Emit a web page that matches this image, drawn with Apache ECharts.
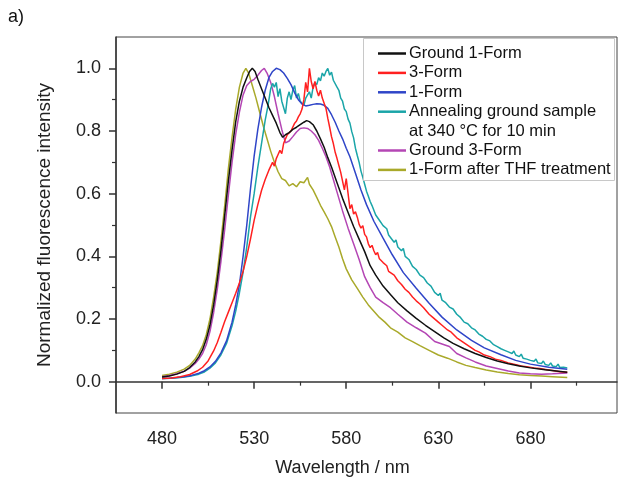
<!DOCTYPE html>
<html>
<head>
<meta charset="utf-8">
<script src="https://cdn.jsdelivr.net/npm/echarts@6/dist/echarts.min.js"></script>
<style>html,body{margin:0;padding:0;background:#fff}#c{width:622px;height:482px}</style>
</head>
<body>
<div id="c"></div>
<script>
// ---------- tick labels ----------
const xMajorTicks = [480, 530, 580, 630, 680];
const xMinorTicks = [505, 555, 605, 655, 705];
const yMajorTicks = [0, 0.2, 0.4, 0.6, 0.8, 1.0];
const yMinorTicks = [0.1, 0.3, 0.5, 0.7, 0.9];

// ---------- series names ----------
const seriesNames = ['Ground 1-Form', '3-Form', '1-Form', 'Annealing ground sample\nat 340 °C for 10 min', 'Ground 3-Form', '1-Form after THF treatment'];

// ---------- Ground 1-Form (black) ----------
const wlBlack = [480,484,488,492,495,498,500,502,504,506,508,510,512,514,516,518,520,522,524,526,527.5,529,530.5,532,534,536,538,540,542,544,545.5,547,549,551,553,555,557,558.5,560,562,564,566,568,570,572,575,578,581,584,587,590,593,596,600,604,608,613,618,623,628,633,638,644,650,656,662,668,674,680,688,694,700];
const valBlack = [0.015,0.018,0.024,0.033,0.045,0.063,0.08,0.102,0.135,0.18,0.245,0.325,0.42,0.53,0.64,0.74,0.83,0.895,0.94,0.97,0.99,1.0,0.99,0.965,0.935,0.905,0.875,0.85,0.825,0.795,0.78,0.788,0.795,0.805,0.812,0.82,0.828,0.833,0.83,0.82,0.8,0.775,0.748,0.715,0.685,0.635,0.585,0.54,0.495,0.455,0.415,0.37,0.34,0.305,0.278,0.252,0.226,0.202,0.18,0.16,0.14,0.122,0.105,0.09,0.077,0.066,0.057,0.05,0.044,0.038,0.034,0.03];

// ---------- 3-Form (red) ----------
const wlRed = [480,485,490,495,499,502,505,508,510,512,514,516,518,520,522,524,526,528,530,532,534,536,538,540,541,542,543,544,545,546,547,548,549,550,551,552,553,554,555,556,557,558,559,560,561,562,563,564,565,566,567,568,569,570,571,572,573,574,575,576,577,578,579,580,581,582,583,584,585,586,587,588,589,590,591,592,593,594,595,596,597,598,599,600,602,603,604,606,607,608,610,611,612,614,615,616,618,619,620,622,623,625,627,628,630,632,633,635,637,638,640,642,643,645,647,648,650,652,653,655,658,659,661,664,665,668,671,672,675,678,679,682,685,686,689,692,693,696,700];
const valRed = [0.01,0.012,0.016,0.023,0.034,0.046,0.066,0.098,0.125,0.158,0.192,0.222,0.252,0.282,0.315,0.352,0.4,0.455,0.515,0.565,0.61,0.645,0.675,0.7,0.688,0.712,0.725,0.738,0.728,0.76,0.775,0.788,0.785,0.8,0.795,0.825,0.832,0.845,0.855,0.87,0.9,0.955,0.925,1.0,0.958,0.935,0.958,0.93,0.912,0.93,0.905,0.9,0.872,0.84,0.812,0.782,0.76,0.732,0.712,0.69,0.668,0.662,0.612,0.648,0.6,0.552,0.565,0.535,0.542,0.525,0.502,0.49,0.498,0.47,0.462,0.44,0.428,0.435,0.418,0.405,0.412,0.392,0.398,0.38,0.37,0.352,0.358,0.34,0.345,0.322,0.31,0.315,0.295,0.285,0.29,0.27,0.258,0.262,0.248,0.236,0.24,0.215,0.205,0.21,0.19,0.18,0.185,0.165,0.158,0.162,0.14,0.132,0.138,0.12,0.112,0.118,0.1,0.095,0.1,0.085,0.08,0.085,0.072,0.068,0.072,0.06,0.056,0.06,0.05,0.048,0.052,0.044,0.042,0.046,0.038,0.036,0.04,0.032,0.03];

// ---------- 1-Form (blue) ----------
const wlBlue = [480,484,488,492,496,500,503,506,509,512,515,518,520,522,524,526,528,530,532,534,536,538,540,542,544,546,548,550,552,554,556,558,560,562,564,566,568,570,572,574,576,578,580,582,585,588,591,595,600,605,611,618,625,632,640,648,655,664,672,680,690,700];
const valBlue = [0.01,0.011,0.013,0.016,0.02,0.027,0.035,0.047,0.065,0.092,0.13,0.19,0.245,0.31,0.4,0.5,0.615,0.72,0.805,0.875,0.93,0.97,0.99,1.0,0.996,0.985,0.968,0.948,0.922,0.9,0.886,0.88,0.882,0.885,0.887,0.886,0.882,0.872,0.852,0.828,0.8,0.775,0.745,0.718,0.665,0.612,0.565,0.512,0.458,0.405,0.348,0.298,0.25,0.206,0.165,0.132,0.108,0.086,0.068,0.056,0.046,0.04];

// ---------- Annealing ground sample (cyan) ----------
const wlCyan = [480,485,490,495,500,503,506,509,512,515,518,520,522,524,526,528,530,532,534,536,537.5,539,540,541,542,543,544,545,546,547,548,549,550,551,552,553,554,555,556,557,558,559,560,561,562,563,564,565,566,567,568,569,570,571,572,573,574,575,576,577,578,579,580,581,582,583,584,585,586,587,588,589,590,591,592,593,594,595,596,597,598,599,600,602,603,604,606,607,608,610,611,612,614,615,616,618,619,620,622,623,624,626,627,628,630,631,632,634,635,636,638,639,640,642,643,644,646,647,648,650,651,652,654,655,656,658,659,660,662,663,664,666,667,668,670,671,672,674,675,676,678,679,680,682,683,684,686,687,688,690,691,692,694,695,696,698,699,700];
const valCyan = [0.01,0.011,0.013,0.017,0.024,0.031,0.043,0.06,0.086,0.122,0.178,0.225,0.283,0.35,0.43,0.525,0.6,0.685,0.76,0.835,0.88,0.935,0.952,0.94,0.955,0.91,0.935,0.895,0.9,0.855,0.905,0.925,0.9,0.93,0.945,0.905,0.92,0.895,0.9,0.882,0.905,0.915,0.925,0.905,0.94,0.955,0.948,0.97,0.96,0.985,0.975,0.99,1.0,0.978,0.988,0.962,0.958,0.94,0.93,0.905,0.895,0.87,0.862,0.838,0.825,0.798,0.778,0.745,0.722,0.7,0.672,0.652,0.63,0.608,0.592,0.575,0.562,0.565,0.532,0.538,0.515,0.52,0.498,0.488,0.468,0.472,0.445,0.452,0.43,0.418,0.425,0.4,0.39,0.395,0.368,0.358,0.362,0.34,0.332,0.338,0.315,0.305,0.31,0.285,0.275,0.282,0.26,0.252,0.258,0.238,0.232,0.236,0.215,0.205,0.21,0.19,0.185,0.19,0.172,0.165,0.17,0.152,0.145,0.15,0.135,0.13,0.135,0.118,0.112,0.118,0.105,0.1,0.105,0.095,0.09,0.098,0.085,0.08,0.088,0.075,0.072,0.078,0.068,0.065,0.072,0.06,0.058,0.066,0.055,0.052,0.06,0.05,0.048,0.056,0.045,0.046,0.052,0.044];

// ---------- Ground 3-Form (magenta) ----------
const wlMagenta = [480,484,488,492,495,498,500,502,504,506,508,510,512,514,516,518,520,522,524,526,528,530,532,534,535.5,537,539,541,543,545,547,549,551,553,555,557,559,561,563,565,567,569,571,573,575,578,581,584,587,590,593,596,600,604,608,613,618,623,628,632,636,640,645,650,656,662,668,674,680,686,692,700];
const valMagenta = [0.016,0.02,0.025,0.033,0.043,0.058,0.072,0.09,0.118,0.16,0.22,0.295,0.385,0.485,0.595,0.7,0.79,0.86,0.915,0.945,0.958,0.965,0.978,0.993,1.0,0.985,0.955,0.91,0.855,0.805,0.762,0.768,0.782,0.797,0.808,0.81,0.808,0.8,0.788,0.77,0.745,0.718,0.685,0.645,0.605,0.545,0.49,0.44,0.39,0.335,0.3,0.27,0.252,0.236,0.215,0.19,0.172,0.155,0.128,0.12,0.112,0.09,0.076,0.063,0.05,0.042,0.034,0.028,0.025,0.024,0.025,0.028];

// ---------- 1-Form after THF treatment (olive) ----------
const wlOlive = [480,484,488,492,495,498,500,502,504,506,508,510,512,514,516,518,520,522,524,525.5,527,529,531,533,535,537,539,541,543,545,547,549,551,553,555,557,559,560,562,564,566,568,570,572,574,576,578,580,583,586,589,592,595,598,601,604,608,612,616,620,625,630,635,640,645,650,656,662,668,674,680,686,692,700];
const valOlive = [0.02,0.024,0.03,0.04,0.052,0.072,0.092,0.115,0.15,0.2,0.27,0.35,0.45,0.56,0.68,0.78,0.87,0.94,0.985,1.0,0.985,0.945,0.905,0.86,0.815,0.775,0.735,0.7,0.67,0.648,0.642,0.625,0.632,0.622,0.638,0.635,0.652,0.63,0.612,0.588,0.563,0.542,0.52,0.495,0.462,0.43,0.392,0.36,0.325,0.298,0.27,0.245,0.225,0.205,0.19,0.172,0.158,0.14,0.128,0.115,0.1,0.085,0.075,0.063,0.052,0.045,0.037,0.031,0.026,0.022,0.02,0.018,0.016,0.013];

const seriesWl = [wlBlack, wlRed, wlBlue, wlCyan, wlMagenta, wlOlive];
const seriesVal = [valBlack, valRed, valBlue, valCyan, valMagenta, valOlive];
const seriesColors = ['#111111', '#ff2020', '#2f45c8', '#1aa5a8', '#b446b4', '#a9a92a'];

const chart = echarts.init(document.getElementById('c'), null, {renderer: 'canvas'});

const series = seriesNames.map((name, i) => ({
  name: name,
  type: 'line',
  xAxisIndex: 0,
  yAxisIndex: 0,
  showSymbol: false,
  symbol: 'none',
  lineStyle: {color: seriesColors[i], width: 1.5},
  itemStyle: {color: seriesColors[i]},
  z: 3 + (5 - i),
  data: seriesWl[i].map((w, k) => [w, seriesVal[i][k]])
}));

// legend drawn as graphic (two-line entry needs icon on first line)
const legendEls = [];
legendEls.push({type: 'rect', left: 363, top: 38, z: 20, shape: {width: 251, height: 142}, style: {fill: '#fff', stroke: '#c8c8c8', lineWidth: 1}});
let row = 0;
seriesNames.forEach((name, i) => {
  const yc = 53.5 + row * 19.4;
  legendEls.push({type: 'line', z: 21, shape: {x1: 378, y1: yc, x2: 406, y2: yc}, style: {stroke: seriesColors[i], lineWidth: 2.5}});
  legendEls.push({type: 'text', z: 21, x: 409, y: yc - 9.7, style: {text: name, font: '16.5px "Liberation Sans", Arial, sans-serif', fill: '#111', lineHeight: 19.4, textVerticalAlign: 'top'}});
  row += name.split('\n').length;
});
legendEls.push({type: 'text', left: 8, top: 8, style: {text: 'a)', font: '18px "Liberation Sans", Arial, sans-serif', fill: '#111'}});

chart.setOption({
  animation: false,
  backgroundColor: '#fff',
  grid: {left: 116, right: 5, top: 37, bottom: 67, show: true, borderColor: '#444', borderWidth: 1},
  xAxis: [
    {
      type: 'value', min: 455, max: 727, position: 'bottom',
      name: 'Wavelength / nm', nameLocation: 'middle', nameGap: 46,
      nameTextStyle: {fontSize: 18, color: '#222', fontFamily: 'Liberation Sans', padding: [0, 48, 0, 0]},
      axisLine: {show: true, lineStyle: {color: '#333', width: 1.5}},
      axisTick: {show: true, customValues: xMajorTicks, length: 7, lineStyle: {color: '#333', width: 1.5}},
      axisLabel: {show: true, customValues: xMajorTicks, fontSize: 18, color: '#222', fontFamily: 'Liberation Sans', margin: 17},
      splitLine: {show: false}
    },
    {
      type: 'value', min: 455, max: 727, position: 'bottom', gridIndex: 0,
      axisLine: {show: false},
      axisTick: {show: true, customValues: xMinorTicks, length: 4, lineStyle: {color: '#333', width: 1.2}},
      axisLabel: {show: false},
      splitLine: {show: false}
    }
  ],
  yAxis: [
    {
      type: 'value', min: -0.1, max: 1.1, position: 'left',
      name: 'Normalized fluorescence intensity', nameLocation: 'middle', nameGap: 62, nameRotate: 90,
      nameTextStyle: {fontSize: 19, color: '#222', fontFamily: 'Liberation Sans'},
      axisLine: {show: true, lineStyle: {color: '#333', width: 1.5}},
      axisTick: {show: true, customValues: yMajorTicks, length: 7, lineStyle: {color: '#333', width: 1.5}},
      axisLabel: {show: true, customValues: yMajorTicks, fontSize: 18, color: '#222', fontFamily: 'Liberation Sans', margin: 15,
        formatter: v => Number(v).toFixed(1)},
      splitLine: {show: false}
    },
    {
      type: 'value', min: -0.1, max: 1.1, position: 'left', gridIndex: 0,
      axisLine: {show: false},
      axisTick: {show: true, customValues: yMinorTicks, length: 4, lineStyle: {color: '#333', width: 1.2}},
      axisLabel: {show: false},
      splitLine: {show: false}
    }
  ],
  series: series,
  graphic: legendEls
});
</script>
</body>
</html>
